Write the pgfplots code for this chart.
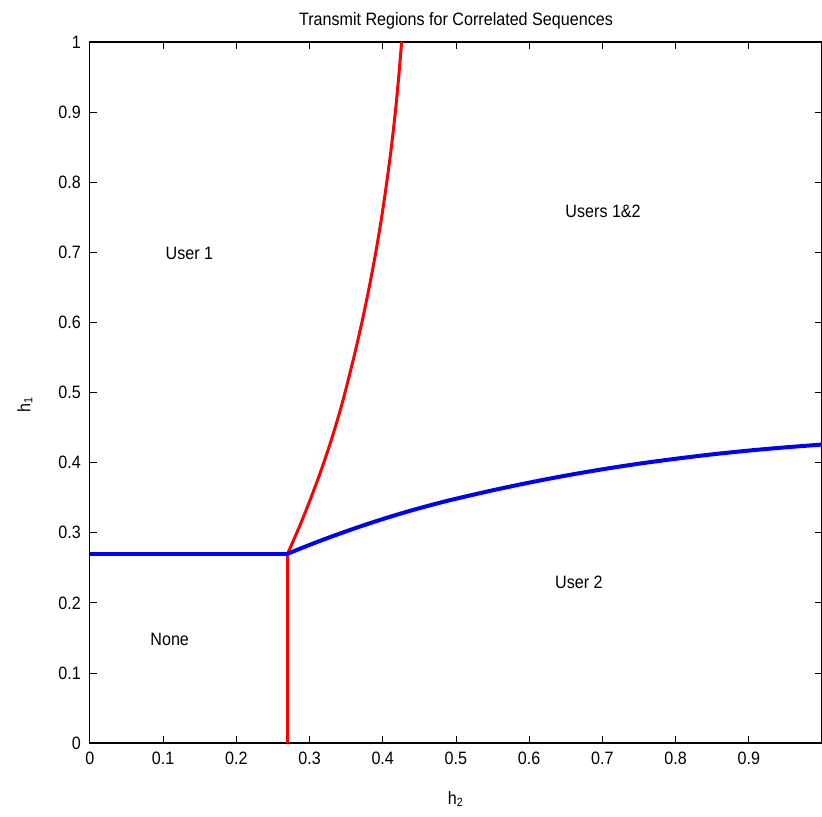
\documentclass[border=0pt]{standalone}
\usepackage{fontspec}
\setmainfont{Liberation Sans}[FakeStretch=0.9]
\usepackage{pgfplots}
\usepackage{pgfplotstable}
\pgfplotsset{compat=1.18}
\pgfplotstableread{
t g
0.27 0.2700
0.29 0.2785
0.31 0.2867
0.33 0.2945
0.35 0.3020
0.375 0.3110
0.40 0.3195
0.425 0.3275
0.45 0.3350
0.475 0.3420
0.50 0.3485
0.55 0.3605
0.60 0.3715
0.65 0.3815
0.70 0.3905
0.75 0.3985
0.80 0.4055
0.85 0.4118
0.90 0.4172
0.95 0.4218
1.00 0.4258
}\curve
\begin{document}
\begin{tikzpicture}
\begin{axis}[
  scale only axis,
  width=366.5bp, height=351bp,
  xmin=0, xmax=1, ymin=0, ymax=1,
  xtick={0,0.1,...,0.9},
  ytick={0,0.1,...,1},
  xticklabels={0,0.1,0.2,0.3,0.4,0.5,0.6,0.7,0.8,0.9},
  yticklabels={0,0.1,0.2,0.3,0.4,0.5,0.6,0.7,0.8,0.9,1},
  tick align=inside,
  major tick length=3.5bp,
  tick style={black, line width=0.4bp},
  axis line style={line width=0.6bp},
  every tick label/.append style={font=\fontsize{9}{10}\selectfont},
  xticklabel style={yshift=-1bp},
  yticklabel style={xshift=-1bp},
  /pgf/number format/assume math mode=true,
  title={Transmit Regions for Correlated Sequences},
  title style={font=\fontsize{9}{10}\selectfont, at={(axis description cs:0.5,1)}, anchor=center, yshift=4.5bp},
  xlabel={h\textsubscript{2}},
  ylabel={h\textsubscript{1}},
  xlabel style={font=\fontsize{9}{10}\selectfont, at={(axis description cs:0.5,0)}, anchor=center, yshift=-28bp},
  ylabel style={font=\fontsize{9}{10}\selectfont, at={(axis description cs:0,0.5)}, anchor=center, yshift=32.5bp, xshift=-6bp},
  clip=true,
]
\addplot[red, line width=1.5bp, line join=round] coordinates {(0.27,0) (0.27,0.27)};
\addplot[red, line width=1.5bp, line join=round, smooth, tension=0.5] table[x=g, y=t] {\curve};
\addplot[blue, line width=2bp, line join=round] coordinates {(0,0.27) (0.27,0.27)};
\addplot[blue, line width=2bp, line join=round, smooth, tension=0.5] table[x=t, y=g] {\curve};
\node[font=\fontsize{9}{10}\selectfont] at (axis cs:0.136,0.699) {User 1};
\node[font=\fontsize{9}{10}\selectfont] at (axis cs:0.701,0.759) {Users 1\&2};
\node[font=\fontsize{9}{10}\selectfont] at (axis cs:0.668,0.229) {User 2};
\node[font=\fontsize{9}{10}\selectfont] at (axis cs:0.109,0.148) {None};
\end{axis}
\pgfresetboundingbox
\path (current axis.south west) ++(-45bp,-36.5bp) coordinate (bl);
\path (current axis.north east) ++(0bp,21bp) coordinate (tr);
\useasboundingbox (bl) rectangle (tr);
\end{tikzpicture}
\end{document}
